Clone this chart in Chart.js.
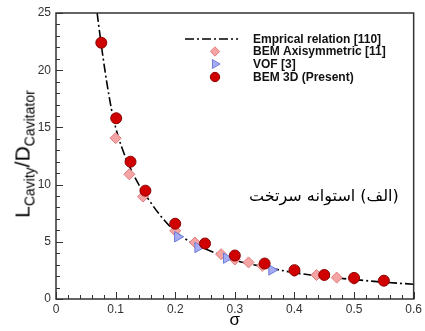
<!DOCTYPE html>
<html>
<head>
<meta charset="utf-8">
<script src="https://cdn.jsdelivr.net/npm/chart.js@4.4.0/dist/chart.umd.min.js"></script>
<style>
  html, body { margin: 0; padding: 0; background: #fff; }
  #wrap { position: relative; width: 425px; height: 331px; }
  #yTitle {
    position: absolute; left: 24px; top: 154px;
    transform: translate(-50%, -50%) rotate(-90deg);
    font-family: "Liberation Sans", Arial, sans-serif; font-size: 21px;
    white-space: nowrap; color: #000; line-height: 1;
  }
  #yTitle sub { font-size: 14px; vertical-align: -5px; }
  #note {
    position: absolute; left: 249px; top: 186px;
    font-family: "DejaVu Sans", sans-serif; font-size: 16px;
    direction: rtl; white-space: nowrap; color: #000;
  }
</style>
</head>
<body>
<div id="wrap">
  <canvas id="cavityChart" width="425" height="331"></canvas>
  <div id="yTitle">L<sub>Cavity</sub>/D<sub>Cavitator</sub></div>
  <div id="note">(الف) استوانه سرتخت</div>
</div>
<script>
// Emprical relation
const sigmaFit = [0.069, 0.076, 0.085, 0.093, 0.1, 0.11, 0.125, 0.14, 0.15, 0.175, 0.2, 0.225, 0.25, 0.3, 0.35, 0.4, 0.45, 0.5, 0.55, 0.6];
const lengthFit = [25, 22.2, 19.0, 16.6, 15.0, 13.3, 11.4, 9.9, 9.1, 7.3, 5.9, 5.0, 4.4, 3.4, 2.8, 2.3, 1.95, 1.7, 1.47, 1.29];

// BEM Axisymmetric [11]
const sigmaAxi = [0.1, 0.123, 0.146, 0.2, 0.233, 0.277, 0.3, 0.323, 0.346, 0.4, 0.437, 0.471, 0.5];
const lengthAxi = [14.06, 10.9, 8.95, 5.96, 4.94, 3.92, 3.45, 3.2, 2.9, 2.4, 2.1, 1.87, 1.75];

// VOF [3]
const sigmaVof = [0.204, 0.238, 0.286, 0.362];
const lengthVof = [5.44, 4.5, 3.57, 2.54];

// BEM 3D (Present)
const sigmaBem = [0.076, 0.101, 0.125, 0.15, 0.2, 0.25, 0.3, 0.35, 0.4, 0.45, 0.5, 0.55];
const lengthBem = [22.4, 15.8, 12.0, 9.47, 6.58, 4.85, 3.8, 3.1, 2.52, 2.1, 1.84, 1.6];

const xTicks = [0, 0.1, 0.2, 0.3, 0.4, 0.5, 0.6];
const yTicks = [0, 5, 10, 15, 20, 25];
const legendLabels = ["Emprical relation [110]", "BEM Axisymmetric [11]", "VOF [3]", "BEM 3D (Present)"];

const toPoints = (xs, ys) => xs.map((x, i) => ({ x: x, y: ys[i] }));

// frame, inward ticks and in-plot legend
const framePlugin = {
  id: "frame",
  afterDraw(chart) {
    const ctx = chart.ctx;
    const a = chart.chartArea;
    const xs = chart.scales.x;
    const ys = chart.scales.y;
    ctx.save();
    ctx.strokeStyle = "#333";
    ctx.lineWidth = 1.5;
    ctx.strokeRect(a.left, a.top, a.right - a.left, a.bottom - a.top);

    ctx.lineWidth = 1;
    ctx.beginPath();
    for (let v = 0; v <= 0.6001; v += 0.02) {
      const px = Math.round(xs.getPixelForValue(v)) + 0.5;
      const major = Math.abs(v * 10 - Math.round(v * 10)) < 0.001;
      ctx.moveTo(px, a.bottom);
      ctx.lineTo(px, a.bottom - (major ? 7 : 4));
    }
    for (let v = 0; v <= 25; v += 1) {
      const py = Math.round(ys.getPixelForValue(v)) + 0.5;
      ctx.moveTo(a.left, py);
      ctx.lineTo(a.left + (v % 5 === 0 ? 7 : 4), py);
    }
    ctx.stroke();

    // legend
    const lx = 215, tx = 253;
    const rows = [39, 51.5, 64, 77];
    ctx.font = "bold 12px 'Liberation Sans', Arial, sans-serif";
    ctx.textBaseline = "middle";
    chart.data.datasets.forEach((ds, i) => {
      const y = rows[i];
      if (i === 0) {
        ctx.strokeStyle = ds.borderColor;
        ctx.lineWidth = ds.borderWidth;
        ctx.setLineDash(ds.borderDash);
        ctx.beginPath();
        ctx.moveTo(185, y);
        ctx.lineTo(238, y);
        ctx.stroke();
        ctx.setLineDash([]);
      } else {
        ctx.fillStyle = ds.backgroundColor;
        ctx.strokeStyle = ds.borderColor;
        ctx.lineWidth = ds.borderWidth;
        Chart.helpers.drawPoint(ctx, {
          pointStyle: ds.pointStyle,
          radius: ds.pointRadius * 0.85,
          rotation: ds.pointRotation || 0,
          borderWidth: ds.borderWidth
        }, lx, y);
      }
      ctx.fillStyle = "#111";
      ctx.fillText(legendLabels[i], tx, y + 0.5);
    });
    ctx.restore();
  }
};

new Chart(document.getElementById("cavityChart"), {
  type: "scatter",
  data: {
    datasets: [
      {
        label: legendLabels[0],
        data: toPoints(sigmaFit, lengthFit),
        showLine: true,
        pointRadius: 0,
        borderColor: "#000",
        borderWidth: 1.6,
        borderDash: [9, 3, 2, 3],
        cubicInterpolationMode: "monotone",
        order: 3
      },
      {
        label: legendLabels[1],
        data: toPoints(sigmaAxi, lengthAxi),
        pointStyle: "rectRot",
        pointRadius: 5.5,
        backgroundColor: "#f4a4a4",
        borderColor: "#e07d7d",
        borderWidth: 1,
        order: 2
      },
      {
        label: legendLabels[2],
        data: toPoints(sigmaVof, lengthVof),
        pointStyle: "triangle",
        pointRotation: 90,
        pointRadius: 6,
        backgroundColor: "#a6acf4",
        borderColor: "#6f7bd6",
        borderWidth: 1,
        order: 1
      },
      {
        label: legendLabels[3],
        data: toPoints(sigmaBem, lengthBem),
        pointStyle: "circle",
        pointRadius: 5.5,
        backgroundColor: "#d00000",
        borderColor: "#8a0000",
        borderWidth: 1,
        order: 0
      }
    ]
  },
  options: {
    responsive: false,
    animation: false,
    layout: { padding: { left: 0, right: 9, top: 13, bottom: 0 } },
    plugins: { legend: { display: false }, tooltip: { enabled: false } },
    scales: {
      x: {
        type: "linear",
        min: 0,
        max: 0.6,
        afterBuildTicks: (scale) => { scale.ticks = xTicks.map((v) => ({ value: v })); },
        afterFit: (scale) => { scale.height = 32; },
        ticks: {
          callback: (v) => (v === 0 ? "0" : v.toFixed(1)),
          font: { family: "'Liberation Sans', Arial, sans-serif", size: 12 },
          color: "#333",
          padding: 3,
          maxRotation: 0
        },
        grid: { display: false, drawTicks: false },
        border: { display: false },
        title: {
          display: true,
          text: "σ",
          font: { family: "'Liberation Sans', Arial, sans-serif", size: 17 },
          color: "#000",
          padding: { top: 0, bottom: 0 }
        }
      },
      y: {
        type: "linear",
        min: 0,
        max: 25,
        afterBuildTicks: (scale) => { scale.ticks = yTicks.map((v) => ({ value: v })); },
        afterFit: (scale) => { scale.width = 56; },
        ticks: {
          font: { family: "'Liberation Sans', Arial, sans-serif", size: 12 },
          color: "#333",
          padding: 5
        },
        grid: { display: false, drawTicks: false },
        border: { display: false }
      }
    }
  },
  plugins: [framePlugin]
});
</script>
</body>
</html>
